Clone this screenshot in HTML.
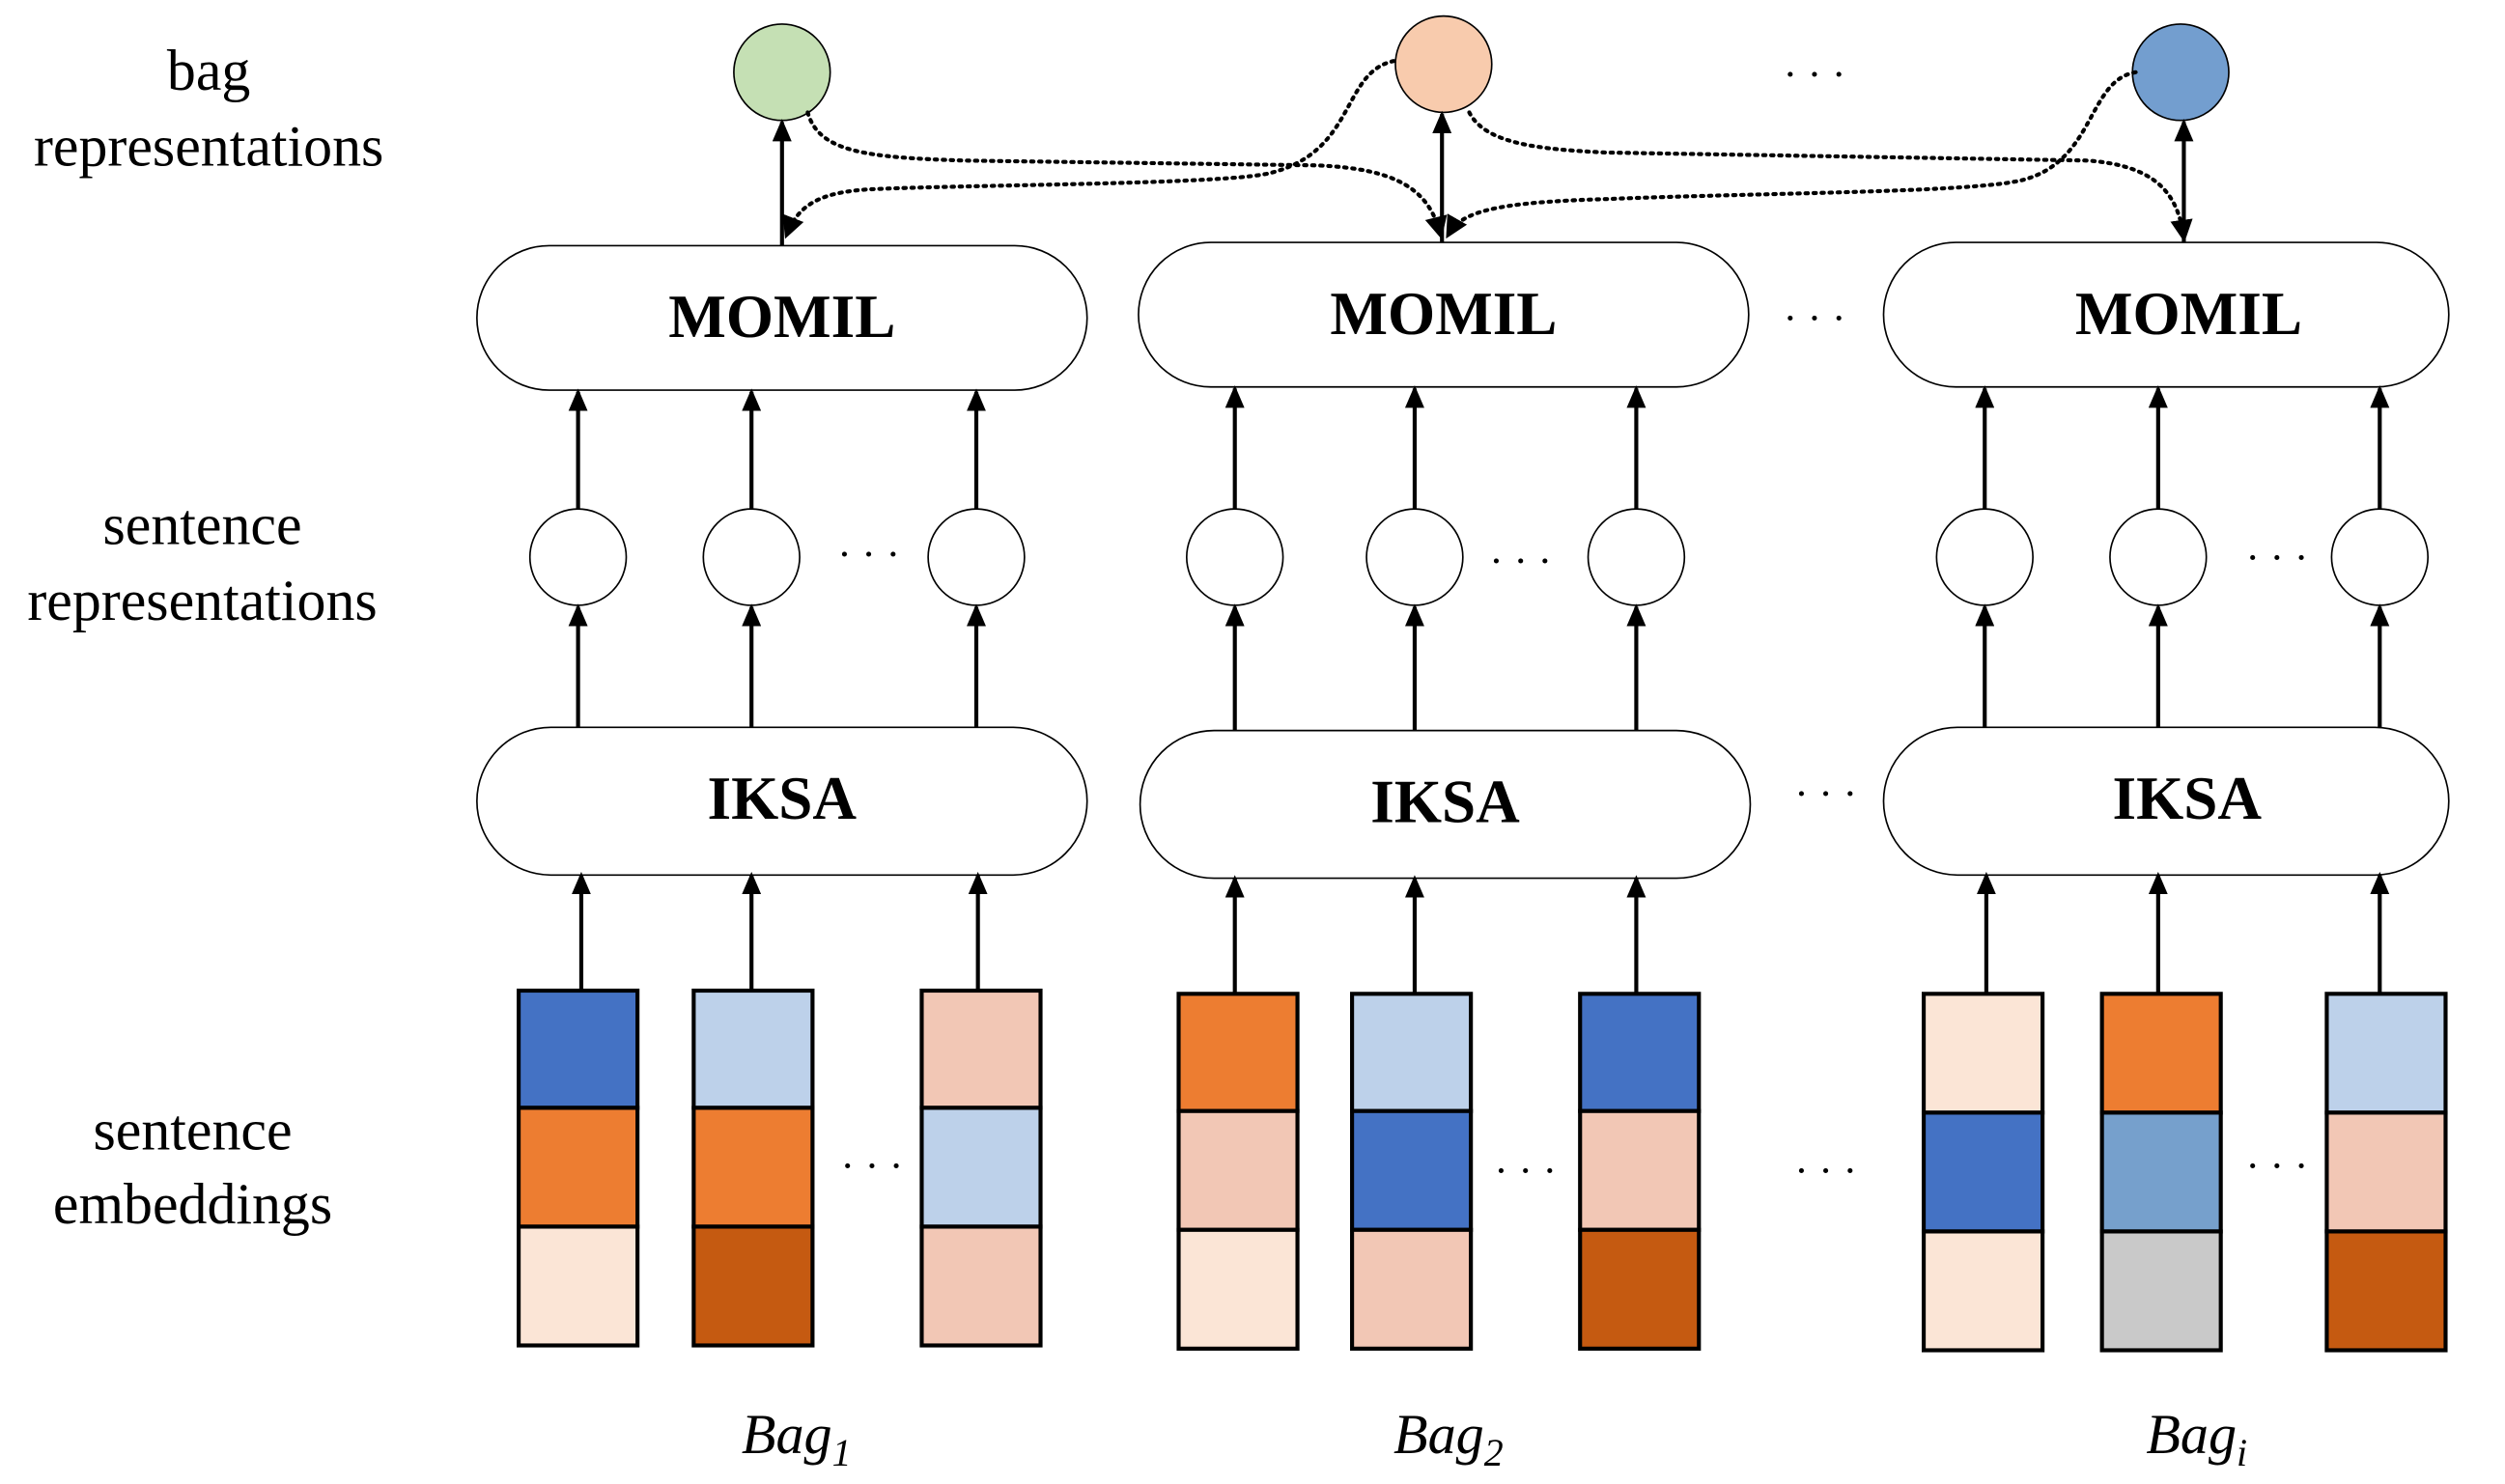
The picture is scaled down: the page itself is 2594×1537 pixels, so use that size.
<!DOCTYPE html>
<html><head><meta charset="utf-8"><style>
html,body{margin:0;padding:0;background:#fff;}
svg{display:block;}
text{font-family:"Liberation Serif",serif;}
</style></head><body>
<svg width="2594" height="1537" viewBox="0 0 1560 924.3" preserveAspectRatio="none" xmlns="http://www.w3.org/2000/svg">
<defs>
<marker id="ah" markerWidth="14" markerHeight="12" refX="12" refY="6" orient="auto" markerUnits="userSpaceOnUse">
<path d="M0,0 L14,6 L0,12 Z" fill="#000"/>
</marker>
<marker id="ah2" markerWidth="14" markerHeight="14" refX="11" refY="7" orient="auto" markerUnits="userSpaceOnUse">
<path d="M0,0 L14,7 L0,14 Z" fill="#000"/>
</marker>
</defs>
<rect width="1560" height="924.3" fill="#fff"/>
<g font-size="36" text-anchor="middle" fill="#000">
<text x="130" y="56">bag</text>
<text x="130" y="103">representations</text>
<text x="126" y="339">sentence</text>
<text x="126" y="386">representations</text>
<text x="120" y="716">sentence</text>
<text x="120" y="762">embeddings</text>
</g>
<circle cx="487" cy="45" r="30" fill="#c5e0b4" stroke="#000" stroke-width="1"/>
<circle cx="899" cy="40" r="30" fill="#f8cbad" stroke="#000" stroke-width="1"/>
<circle cx="1358" cy="45" r="30" fill="#739ecf" stroke="#000" stroke-width="1"/>
<g font-size="26" text-anchor="middle">
<text x="1130" y="55">· · ·</text>
<text x="1130" y="207">· · ·</text>
<text x="1137" y="503">· · ·</text>
<text x="541" y="354">· · ·</text>
<text x="947" y="358">· · ·</text>
<text x="1418" y="356">· · ·</text>
<text x="543" y="735">· · ·</text>
<text x="950" y="738">· · ·</text>
<text x="1137" y="738">· · ·</text>
<text x="1418" y="735">· · ·</text>
</g>
<g fill="#fff" stroke="#000" stroke-width="1">
<rect x="297" y="153" width="380" height="90" rx="45"/>
<rect x="709" y="151" width="380" height="90" rx="45"/>
<rect x="1173" y="151" width="352" height="90" rx="45"/>
<rect x="297" y="453" width="380" height="92" rx="46"/>
<rect x="710" y="455" width="380" height="92" rx="46"/>
<rect x="1173" y="453" width="352" height="92" rx="46"/>
</g>
<g font-size="38" font-weight="bold" text-anchor="middle">
<text x="487" y="210">MOMIL</text>
<text x="899" y="208">MOMIL</text>
<text x="1363" y="208">MOMIL</text>
<text x="487" y="510">IKSA</text>
<text x="900" y="512">IKSA</text>
<text x="1362" y="510">IKSA</text>
</g>
<g fill="#fff" stroke="#000" stroke-width="1">
<circle cx="360" cy="347" r="30"/><circle cx="468" cy="347" r="30"/><circle cx="608" cy="347" r="30"/>
<circle cx="769" cy="347" r="30"/><circle cx="881" cy="347" r="30"/><circle cx="1019" cy="347" r="30"/>
<circle cx="1236" cy="347" r="30"/><circle cx="1344" cy="347" r="30"/><circle cx="1482" cy="347" r="30"/>
</g>
<g stroke="#000" stroke-width="2.5" marker-end="url(#ah)">
<line x1="360" y1="453" x2="360" y2="378"/><line x1="468" y1="453" x2="468" y2="378"/><line x1="608" y1="453" x2="608" y2="378"/>
<line x1="769" y1="455" x2="769" y2="378"/><line x1="881" y1="455" x2="881" y2="378"/><line x1="1019" y1="455" x2="1019" y2="378"/>
<line x1="1236" y1="453" x2="1236" y2="378"/><line x1="1344" y1="453" x2="1344" y2="378"/><line x1="1482" y1="453" x2="1482" y2="378"/>
<line x1="360" y1="317" x2="360" y2="244"/><line x1="468" y1="317" x2="468" y2="244"/><line x1="608" y1="317" x2="608" y2="244"/>
<line x1="769" y1="317" x2="769" y2="242"/><line x1="881" y1="317" x2="881" y2="242"/><line x1="1019" y1="317" x2="1019" y2="242"/>
<line x1="1236" y1="317" x2="1236" y2="242"/><line x1="1344" y1="317" x2="1344" y2="242"/><line x1="1482" y1="317" x2="1482" y2="242"/>
<line x1="362" y1="617" x2="362" y2="545"/><line x1="468" y1="617" x2="468" y2="545"/><line x1="609" y1="617" x2="609" y2="545"/>
<line x1="769" y1="619" x2="769" y2="547"/><line x1="881" y1="619" x2="881" y2="547"/><line x1="1019" y1="619" x2="1019" y2="547"/>
<line x1="1237" y1="619" x2="1237" y2="545"/><line x1="1344" y1="619" x2="1344" y2="545"/><line x1="1482" y1="619" x2="1482" y2="545"/>
<line x1="487" y1="153" x2="487" y2="76"/><line x1="898" y1="151" x2="898" y2="71"/><line x1="1360" y1="151" x2="1360" y2="76"/>
</g>
<g fill="none" stroke="#000" stroke-width="2.5" stroke-dasharray="1.5 3.5" stroke-linecap="round" marker-end="url(#ah2)">
<path d="M503,70 C510,95 540,98 600,100 L820,103 C870,105 890,118 897,146"/>
<path d="M868,38 C835,45 845,95 790,108 C760,115 600,115 540,118 C510,120 497,128 490,146"/>
<path d="M915,70 C925,90 960,93 1000,95 L1300,100 C1340,103 1356,118 1360,148"/>
<path d="M1330,45 C1300,50 1305,100 1260,112 C1230,120 1100,120 1000,124 C930,126 910,132 902,146"/>
</g>
<g stroke="#000" stroke-width="2.5">
<rect x="323" y="617" width="74" height="73" fill="#4472c4"/><rect x="323" y="690" width="74" height="74" fill="#ed7d31"/><rect x="323" y="764" width="74" height="74" fill="#fbe5d6"/>
<rect x="432" y="617" width="74" height="73" fill="#bdd1ea"/><rect x="432" y="690" width="74" height="74" fill="#ed7d31"/><rect x="432" y="764" width="74" height="74" fill="#c55a11"/>
<rect x="574" y="617" width="74" height="73" fill="#f2c7b5"/><rect x="574" y="690" width="74" height="74" fill="#bdd1ea"/><rect x="574" y="764" width="74" height="74" fill="#f2c7b5"/>
<rect x="734" y="619" width="74" height="73" fill="#ed7d31"/><rect x="734" y="692" width="74" height="74" fill="#f2c7b5"/><rect x="734" y="766" width="74" height="74" fill="#fbe5d6"/>
<rect x="842" y="619" width="74" height="73" fill="#bdd1ea"/><rect x="842" y="692" width="74" height="74" fill="#4472c4"/><rect x="842" y="766" width="74" height="74" fill="#f2c7b5"/>
<rect x="984" y="619" width="74" height="73" fill="#4472c4"/><rect x="984" y="692" width="74" height="74" fill="#f2c7b5"/><rect x="984" y="766" width="74" height="74" fill="#c55a11"/>
<rect x="1198" y="619" width="74" height="74" fill="#fbe5d6"/><rect x="1198" y="693" width="74" height="74" fill="#4472c4"/><rect x="1198" y="767" width="74" height="74" fill="#fbe5d6"/>
<rect x="1309" y="619" width="74" height="74" fill="#ed7d31"/><rect x="1309" y="693" width="74" height="74" fill="#76a0cc"/><rect x="1309" y="767" width="74" height="74" fill="#c9c9c9"/>
<rect x="1449" y="619" width="74" height="74" fill="#bdd1ea"/><rect x="1449" y="693" width="74" height="74" fill="#f2c7b5"/><rect x="1449" y="767" width="74" height="74" fill="#c55a11"/>
</g>
<g font-size="35" font-style="italic" text-anchor="middle">
<text x="496" y="905">Bag<tspan font-size="24" dy="8">1</tspan></text>
<text x="902" y="905">Bag<tspan font-size="24" dy="8">2</tspan></text>
<text x="1368" y="905">Bag<tspan font-size="24" dy="8">i</tspan></text>
</g>
</svg>
</body></html>
